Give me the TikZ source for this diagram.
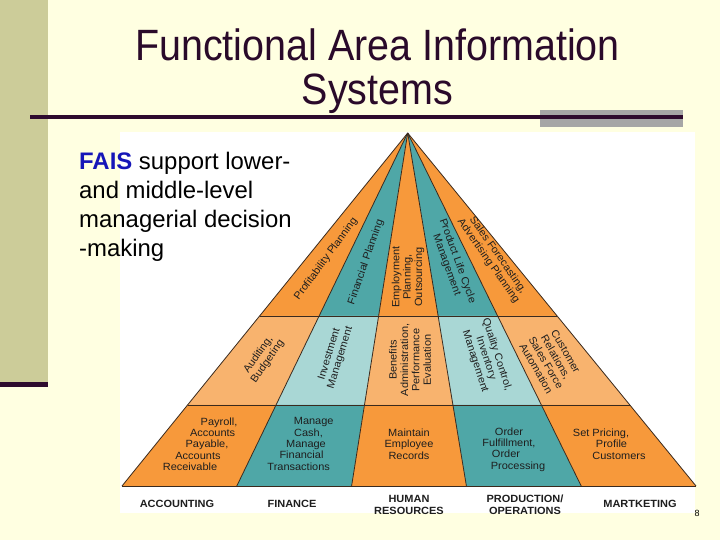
\documentclass[tikz,border=0pt]{standalone}
\usepackage{fontspec}
\setmainfont{Liberation Sans}
\newfontfamily\pyrfont[FakeStretch=1.05]{Liberation Sans}
\newfontfamily\ttlfont[FakeStretch=0.9]{Liberation Sans}
\usetikzlibrary{calc}
\definecolor{cream}{HTML}{FFFFE1}
\definecolor{sidebar}{HTML}{CCCC99}
\definecolor{plum}{HTML}{2E0B2E}
\definecolor{titlec}{HTML}{2A0A2A}
\definecolor{greybar}{HTML}{A6A6A6}
\definecolor{orng}{HTML}{F7993B}
\definecolor{lorng}{HTML}{F8B36E}
\definecolor{tealc}{HTML}{4FA7A7}
\definecolor{lteal}{HTML}{A9D7D5}
\definecolor{edgec}{HTML}{3A2A1E}
\definecolor{faisblue}{HTML}{1616B8}
\definecolor{ptext}{HTML}{1E1E1E}
\newcommand\shx[2]{\kern#1bp\relax#2\kern-#1bp\relax}
\begin{document}
\begin{tikzpicture}[x=1bp,y=-1bp,
  ptxt/.style={font=\pyrfont\fontsize{10.5}{11.4}\selectfont, text=ptext, align=center, inner sep=0pt},
  dept/.style={font=\pyrfont\bfseries\fontsize{10.5}{12}\selectfont, text=ptext, align=center, inner sep=0pt},
  body/.style={font=\fontsize{24}{29}\selectfont, anchor=base west, inner sep=0pt, text=black},
  ttl/.style={font=\ttlfont\fontsize{44}{47}\selectfont, anchor=base, inner sep=0pt, text=titlec},
  edgeline/.style={draw=edgec, line width=0.8bp, line join=round}]
% background
\fill[cream] (0,0) rectangle (720,540);
\useasboundingbox (0,0) rectangle (720,540);
\fill[sidebar] (0,0) rectangle (48,382);
\fill[plum] (0,382) rectangle (48,387);
\fill[greybar] (540,110) rectangle (683,127);
\fill[plum] (30,115.5) rectangle (683,119);
% title
\node[ttl] (t1) at (377.5,61) {Functional Area Information};
\node[ttl] (t2) at (377.5,105) {Systems};
% picture area
\fill[white] (120,132) rectangle (695,513);
% pyramid geometry
\coordinate (A) at (407.7,133);
\foreach \k in {0,...,5} {
  \coordinate (B\k) at ({122+\k*114.8},486);
  \coordinate (U\k) at ($(A)!0.5184!(B\k)$);
  \coordinate (M\k) at ($(A)!0.7705!(B\k)$);
}
\foreach \k/\j/\c/\l in {1/0/orng/lorng, 2/1/tealc/lteal, 3/2/orng/lorng, 4/3/tealc/lteal, 5/4/orng/lorng} {
  \fill[\c] (A) -- (U\j) -- (U\k) -- cycle;
  \fill[\l] (U\j) -- (M\j) -- (M\k) -- (U\k) -- cycle;
  \fill[\c] (M\j) -- (B\j) -- (B\k) -- (M\k) -- cycle;
}
\foreach \k in {0,...,5} { \draw[edgeline] (A) -- (B\k); }
\draw[edgeline] (U0) -- (U5);
\draw[edgeline] (M0) -- (M5);
\draw[edgeline] (B0) -- (B5);
% upper band labels
\node[ptxt, rotate=54] (p1) at (326,259) {Profitability Planning};
\node[ptxt, rotate=71] (p2) at (366,262) {Financial Planning};
\node[ptxt, rotate=90] (p3) at (408,277) {Employment\\Planning,\\Outsourcing};
\node[ptxt, rotate=-70] (p4) at (452,263) {Product Life Cycle\\Management};
\node[ptxt, rotate=-55] (p5) at (493,258) {Sales Forecasting,\\Advertising Planning};
% middle band labels
\node[ptxt, rotate=55] (m1) at (263,358) {Auditing,\\Budgeting};
\node[ptxt, rotate=73] (m2) at (335,356) {Investment\\Management};
\node[ptxt, rotate=90] (m3) at (410,360) {Benefits\\Administration,\\Performance\\Evaluation};
\node[ptxt, rotate=-72] (m4) at (486,358) {Quality Control,\\Inventory\\Management};
\node[ptxt, rotate=-60] (m5) at (551,360) {Customer\\Relations,\\Sales Force\\Automation};
% bottom band labels
\node[ptxt] (b1) at (205,444) {\shx{14}{Payroll,}\\\shx{7.6}{Accounts}\\\shx{2}{Payable,}\\\shx{-7}{Accounts}\\\shx{-15}{Receivable}};
\node[ptxt] (b2) at (305,444) {\shx{8.7}{Manage}\\\shx{3.5}{Cash,}\\\shx{1}{Manage}\\\shx{-3.5}{Financial}\\\shx{-6.3}{Transactions}};
\node[ptxt] (b3) at (409,444) {Maintain\\Employee\\Records};
\node[ptxt] (b4) at (510,449.5) {\shx{-1}{Order}\\\shx{-1}{Fulfillment,}\\\shx{-4}{Order}\\\shx{8}{Processing}};
\node[ptxt] (b5) at (610.5,444) {\shx{-9.5}{Set Pricing,}\\\shx{1}{Profile}\\\shx{8.5}{Customers}};
% department names
\node[dept] (d1) at (177,504) {ACCOUNTING};
\node[dept] (d2) at (292,504) {FINANCE};
\node[dept] (d3) at (409,504.5) {HUMAN\\RESOURCES};
\node[dept] (d4) at (525,504.5) {PRODUCTION/\\OPERATIONS};
\node[dept] (d5) at (640,504) {MARTKETING};
% body text
\node[body] (l1) at (79,170) {\textcolor{faisblue}{\textbf{FAIS}} support lower-};
\node[body] (l2) at (79,199) {and middle-level};
\node[body] (l3) at (79,228) {managerial decision};
\node[body] (l4) at (79,257) {-making};
% page number
\node[font=\fontsize{9}{10}\selectfont, inner sep=0pt] (pg) at (697,513) {8};
\end{tikzpicture}
\end{document}
